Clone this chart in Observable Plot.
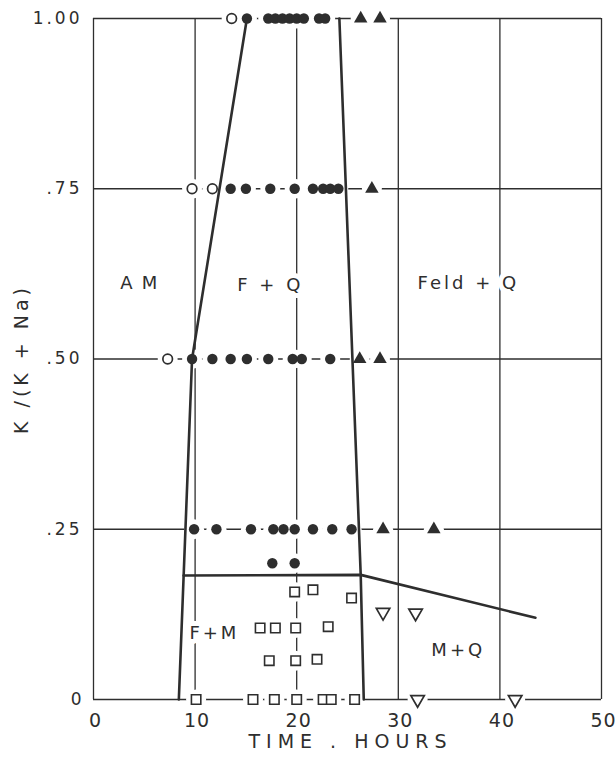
<!DOCTYPE html>
<html>
<head>
<meta charset="utf-8">
<script src="https://cdn.jsdelivr.net/npm/d3@7"></script>
<script src="https://cdn.jsdelivr.net/npm/@observablehq/plot@0.6"></script>
<style>
  html, body { margin: 0; padding: 0; background: #fff; }
  #chart svg { display: block; }
  #chart svg text { letter-spacing: 3px; }
</style>
</head>
<body>
<div id="chart"></div>
<script>
// Axis ticks
const timeTicks = [0, 10, 20, 30, 40, 50];
const ratioTicks = [0, 0.25, 0.5, 0.75, 1];
const ratioTickLabels = ["0", ".25", ".50", ".75", "1.00"];

// Runs: [time (hours), K/(K + Na)]
const openCircles = [[13.6, 1], [9.7, 0.75], [11.7, 0.75], [7.3, 0.5]];

const filledCircles = [
  [15.1, 1], [17.2, 1], [17.9, 1], [18.6, 1], [19.3, 1], [20.0, 1], [20.7, 1], [22.2, 1], [22.8, 1],
  [13.5, 0.75], [15.0, 0.75], [17.4, 0.75], [19.8, 0.75], [21.6, 0.75], [22.6, 0.75], [23.3, 0.75], [24.1, 0.75],
  [9.7, 0.5], [11.7, 0.5], [13.5, 0.5], [15.1, 0.5], [17.2, 0.5], [19.6, 0.5], [20.5, 0.5], [23.3, 0.5],
  [9.9, 0.25], [12.1, 0.25], [15.5, 0.25], [17.7, 0.25], [18.7, 0.25], [19.8, 0.25], [21.6, 0.25], [23.5, 0.25], [25.4, 0.25],
  [17.6, 0.2], [19.8, 0.2]
];

const filledTriangles = [
  [26.3, 1], [28.2, 1], [27.4, 0.75], [26.2, 0.5], [28.2, 0.5], [28.5, 0.25], [33.5, 0.25]
];

const openSquares = [
  [19.8, 0.158], [21.6, 0.161], [25.4, 0.149],
  [16.4, 0.105], [17.9, 0.105], [19.9, 0.105], [23.1, 0.107],
  [17.3, 0.057], [19.9, 0.057], [22.0, 0.059],
  [10.1, 0], [15.7, 0], [17.8, 0], [20.0, 0], [22.6, 0], [23.4, 0], [25.7, 0]
];

const openDownTriangles = [[28.5, 0.128], [31.7, 0.127], [31.9, 0], [41.5, 0]];

// Phase-field boundaries
const boundaryAM = [[15.1, 1], [9.7, 0.5], [8.4, 0]];
const boundaryFeld = [[24.2, 1], [26.3, 0.183], [26.6, 0]];
const boundaryM = [[8.87, 0.182], [26.3, 0.183], [43.5, 0.12]];

// Phase-field names
const fieldNames = ["AM", "F + Q", "Feld + Q", "F+M", "M+Q"];
const fieldTime = [4.9, 17.4, 36.9, 11.9, 35.9];
const fieldRatio = [0.611, 0.608, 0.611, 0.098, 0.072];

const ink = "#2e2e2e";
const font = "'DejaVu Sans', 'Liberation Sans', sans-serif";
const px = d => d[0], py = d => d[1];
const allPoints = [...openCircles, ...filledCircles, ...filledTriangles, ...openSquares, ...openDownTriangles];
const fields = fieldNames.map((name, i) => ({name, t: fieldTime[i], k: fieldRatio[i]}));

const chart = Plot.plot({
  width: 616,
  height: 760,
  marginLeft: 93,
  marginRight: 15,
  marginTop: 18,
  marginBottom: 61,
  x: {domain: [0, 50]},
  y: {domain: [0, 1]},
  style: {fontFamily: font, color: ink, background: "white", overflow: "visible"},
  marks: [
    // grid and frame
    Plot.ruleX(timeTicks, {stroke: ink, strokeWidth: 1.3}),
    Plot.ruleY(ratioTicks, {stroke: ink, strokeWidth: 1.3}),
    // white knock-outs so grid lines break around the runs and the field names
    Plot.dot(allPoints, {x: px, y: py, r: 10, fill: "white"}),
    Plot.text(fields, {x: "t", y: "k", text: "name", fontSize: 18, fill: "white", stroke: "white", strokeWidth: 10, strokeLinejoin: "round"}),
    // boundaries
    Plot.line(boundaryAM, {x: px, y: py, stroke: ink, strokeWidth: 2.6}),
    Plot.line(boundaryFeld, {x: px, y: py, stroke: ink, strokeWidth: 2.6}),
    Plot.line(boundaryM, {x: px, y: py, stroke: ink, strokeWidth: 2.6}),
    // runs
    Plot.dot(filledCircles, {x: px, y: py, r: 5.2, fill: ink}),
    Plot.dot(openCircles, {x: px, y: py, r: 4.8, fill: "white", stroke: ink, strokeWidth: 1.7}),
    Plot.dot(filledTriangles, {x: px, y: py, symbol: "triangle", r: 5, fill: ink}),
    Plot.dot(openSquares, {x: px, y: py, symbol: "square", r: 5.3, fill: "white", stroke: ink, strokeWidth: 1.6}),
    Plot.dot(openDownTriangles, {x: px, y: py, symbol: "triangle", rotate: 180, r: 5, fill: "white", stroke: ink, strokeWidth: 1.7}),
    // field names
    Plot.text(fields, {x: "t", y: "k", text: "name", fontSize: 18, fill: ink}),
    // axes
    Plot.axisX(timeTicks, {tickSize: 0, tickPadding: 14, fontSize: 19, dx: 2, label: null}),
    Plot.axisY(ratioTicks, {tickSize: 0, tickPadding: 11, fontSize: 17, label: null,
      tickFormat: d => ratioTickLabels[ratioTicks.indexOf(d)]}),
    Plot.text(["TIME . HOURS"], {frameAnchor: "bottom", lineAnchor: "middle", dy: 42, dx: 3, fontSize: 19, fill: ink}),
    Plot.text(["K /(K + Na)"], {frameAnchor: "left", textAnchor: "middle", lineAnchor: "middle", dx: -72, rotate: -90, fontSize: 19, fill: ink})
  ]
});

// tracking per text
d3.select(chart).selectAll("text").each(function () {
  const s = this.textContent;
  if (s === "AM") this.style.letterSpacing = "9px";
  if (s === "TIME . HOURS") this.style.letterSpacing = "6px";
  if (s === "K /(K + Na)") this.style.letterSpacing = "4px";
  if (/^\d0?$/.test(s)) this.style.letterSpacing = "1px";
});

document.getElementById("chart").append(chart);
</script>
</body>
</html>
